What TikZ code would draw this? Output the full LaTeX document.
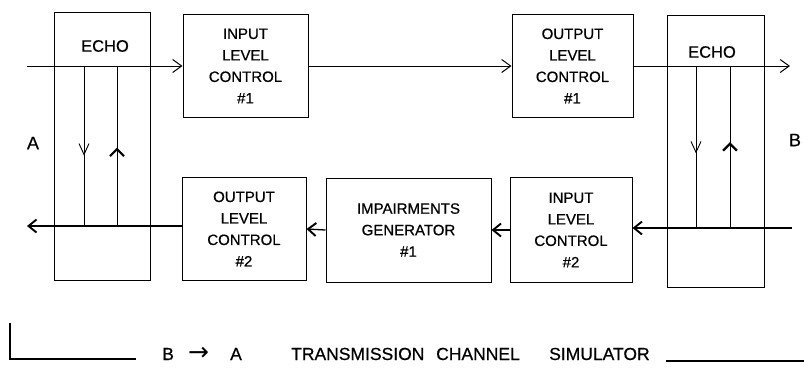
\documentclass[tikz,border=0pt]{standalone}
\usepackage{fontspec}
\setmainfont{Liberation Sans}[FakeBold=0.6]
\newfontfamily\arrowfont{DejaVu Sans}
\usetikzlibrary{arrows.meta,decorations.markings}
\begin{document}
\begin{tikzpicture}[x=1pt,y=-1pt,
  box/.style={draw,line width=1pt,inner sep=0pt,align=center,font=\fontsize{15}{21.5}\selectfont},
  echotxt/.style={font=\fontsize{16.5}{19}\selectfont},
  lbl/.style={font=\fontsize{18}{21}\selectfont},
  btxt/.style={font=\fontsize{17.5}{20}\selectfont,anchor=base west,inner sep=0pt},
  thinconn/.style={line width=1pt,-{Straight Barb[length=9pt,width=13pt]}},
  boldconn/.style={line width=1.3pt,-{Straight Barb[length=8pt,width=13pt,line width=1.9pt]}},
  echoline/.style={line width=0.9pt},
  downmark/.style={echoline,postaction={decorate},decoration={markings,
      mark=at position #1 with {\arrow{Straight Barb[length=11pt,width=10pt,line width=0.9pt]}}}},
  upmark/.style={echoline,postaction={decorate},decoration={markings,
      mark=at position #1 with {\arrow{Straight Barb[length=7pt,width=14pt,line width=2.2pt]}}}},
  frame/.style={line width=1.8pt}
]
\useasboundingbox (0,0) rectangle (804,368);

% boxes
\node[box,minimum width=96pt,minimum height=268pt] (echoL) at (102,146) {};
\node[echotxt] (echoLt) at (105,46) {ECHO};
\node[box,minimum width=125pt,minimum height=103pt] (ilc1) at (245.5,66) {INPUT\\LEVEL\\CONTROL\\\#1};
\node[box,minimum width=121pt,minimum height=103pt] (olc1) at (572.5,66) {OUTPUT\\LEVEL\\CONTROL\\\#1};
\node[box,minimum width=97pt,minimum height=272pt] (echoR) at (715.5,151) {};
\node[echotxt] (echoRt) at (712,52) {ECHO};
\node[box,minimum width=122pt,minimum height=105pt] (ilc2) at (571,230) {INPUT\\LEVEL\\CONTROL\\\#2};
\node[box,minimum width=165pt,minimum height=104pt] (imp) at (408.5,230) {IMPAIRMENTS\\GENERATOR\\\#1};
\node[box,minimum width=124pt,minimum height=103pt] (olc2) at (244,229) {OUTPUT\\LEVEL\\CONTROL\\\#2};

% side labels
\node[lbl] (A) at (33,143) {A};
\node[lbl] (B) at (795,140) {B};

% top path A -> B
\coordinate (inA) at (27,66);
\coordinate (outB) at (790,66);
\draw[thinconn] (inA) -- (inA -| ilc1.west);
\draw[thinconn] (ilc1.east) -- (olc1.west);
\draw[thinconn] (olc1.east) -- (outB);

% bottom path B -> A
\coordinate (inB) at (792,228);
\coordinate (outA) at (27,226);
\draw[boldconn] (inB) -- (inB -| ilc2.east);
\draw[boldconn] (ilc2.west) -- (imp.east);
\draw[boldconn] (imp.west) -- (olc2.east);
\draw[boldconn] (olc2.west |- outA) -- (outA);

% echo paths, left
\coordinate (eL1t) at (84,66);
\coordinate (eL1b) at (84,226);
\coordinate (eL2t) at (117,66);
\coordinate (eL2b) at (117,226);
\draw[downmark=0.56] (eL1t) -- (eL1b);
\draw[upmark=0.49] (eL2b) -- (eL2t);

% echo paths, right
\coordinate (eR1t) at (696,66);
\coordinate (eR1b) at (696,228);
\coordinate (eR2t) at (730,66);
\coordinate (eR2b) at (730,228);
\draw[downmark=0.54] (eR1t) -- (eR1b);
\draw[upmark=0.53] (eR2b) -- (eR2t);

% bottom caption
\coordinate (brT) at (10,323);
\coordinate (brC) at (10,359);
\coordinate (brE) at (136,359);
\draw[frame] (brT) -- (brC) -- (brE);
\node[btxt] (w1) at (162,360) {B};
\node[btxt,font=\arrowfont\fontsize{25}{28}\selectfont] (w2) at (188,360) {→};
\node[btxt] (w3) at (230,360) {A};
\node[btxt] (w4) at (291,360) {TRANSMISSION};
\node[btxt] (w5) at (436,360) {CHANNEL};
\node[btxt] (w6) at (549,360) {SIMULATOR};
\coordinate (rS) at (666,361);
\coordinate (rE) at (804,361);
\draw[frame] (rS) -- (rE);
\end{tikzpicture}
\end{document}
